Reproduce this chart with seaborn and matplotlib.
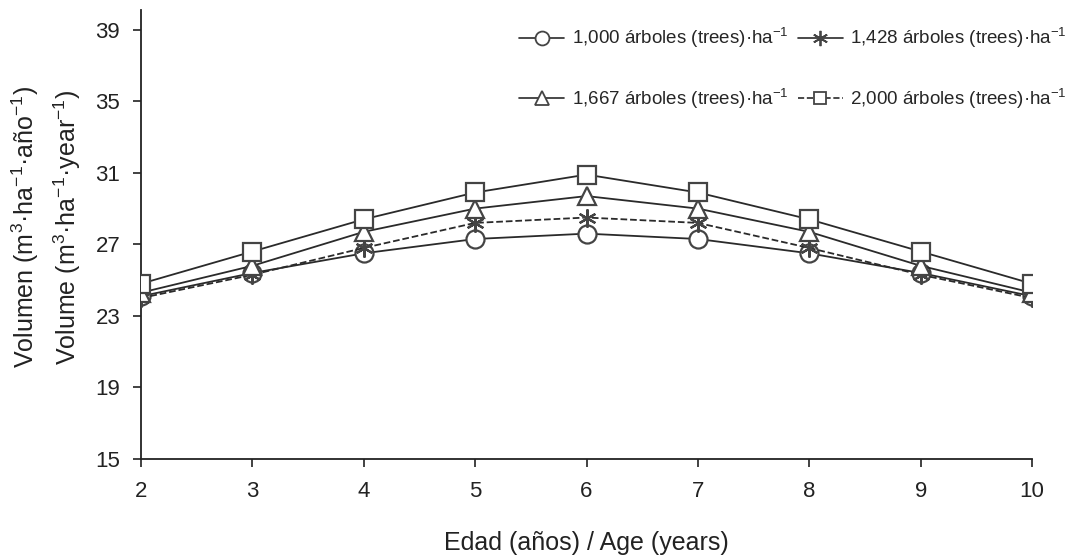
import matplotlib
matplotlib.use("Agg")
import matplotlib.pyplot as plt
from matplotlib.lines import Line2D
import seaborn as sns
import pandas as pd

ages = [2, 3, 4, 5, 6, 7, 8, 9, 10]
v1000 = [24.1, 25.4, 26.5, 27.3, 27.6, 27.3, 26.5, 25.4, 24.1]
v1428 = [24.0, 25.3, 26.8, 28.2, 28.5, 28.2, 26.8, 25.3, 24.0]
v1667 = [24.3, 25.8, 27.7, 29.0, 29.7, 29.0, 27.7, 25.8, 24.3]
v2000 = [24.8, 26.6, 28.4, 29.9, 30.9, 29.9, 28.4, 26.6, 24.8]
labels = ["1,000 árboles (trees)·ha$^{-1}$",
          "1,428 árboles (trees)·ha$^{-1}$",
          "1,667 árboles (trees)·ha$^{-1}$",
          "2,000 árboles (trees)·ha$^{-1}$"]
yticks = [15, 19, 23, 27, 31, 35, 39]
xticks = [2, 3, 4, 5, 6, 7, 8, 9, 10]

sns.set_theme(style="ticks")
plt.rcParams["font.family"] = ["Liberation Sans", "DejaVu Sans"]
plt.rcParams["mathtext.fontset"] = "custom"
plt.rcParams["mathtext.rm"] = "Liberation Sans"
plt.rcParams["mathtext.it"] = "Liberation Sans:italic"
plt.rcParams["mathtext.bf"] = "Liberation Sans:bold"
plt.rcParams["mathtext.default"] = "regular"

fig = plt.figure(figsize=(10.69, 5.59), dpi=100)
ax = fig.add_axes([0.1319, 0.1789, 0.9654 - 0.1319, 0.982 - 0.1789])

lc = "#2a2a2a"
ec = "#444444"
series = [
    (v1000, "o", "-", 13),
    (v1428, (6, 2, 0), "--", 13),
    (v1667, "^", "-", 13),
    (v2000, "s", "-", 13),
]
for vals, mk, ls, ms in series:
    df = pd.DataFrame({"age": ages, "vol": vals})
    sns.lineplot(data=df, x="age", y="vol", ax=ax, color=lc, marker=mk,
                 linestyle=ls, linewidth=1.3, markersize=ms,
                 markerfacecolor="white", markeredgecolor=ec,
                 markeredgewidth=1.6, zorder=3)

ax.set_xlim(2, 10)
ax.set_ylim(15, 40.1)
ax.set_xticks(xticks)
ax.set_yticks(yticks)
ax.tick_params(axis="both", direction="out", length=6, width=1.2,
               labelsize=16, color="#222222", labelcolor="#222222")
ax.tick_params(axis="x", pad=10)
ax.tick_params(axis="y", pad=9)
for s in ["top", "right"]:
    ax.spines[s].set_visible(False)
for s in ["left", "bottom"]:
    ax.spines[s].set_linewidth(1.3)
    ax.spines[s].set_color("#222222")

ax.set_xlabel("Edad (años) / Age (years)", fontsize=18, color="#222222", labelpad=21)
ax.set_ylabel("")
fig.text(0.024, 0.594, "Volumen (m$^{3}$·ha$^{-1}$·año$^{-1}$)",
         rotation=90, ha="center", va="center", fontsize=18, color="#222222")
fig.text(0.063, 0.594, "Volume (m$^{3}$·ha$^{-1}$·year$^{-1}$)",
         rotation=90, ha="center", va="center", fontsize=18, color="#222222")

def h(mk, ls, ms):
    return Line2D([], [], color=lc, marker=mk, linestyle=ls, linewidth=1.2,
                  markersize=ms, markerfacecolor="white", markeredgecolor=ec,
                  markeredgewidth=1.3)

handles = [h("o", "-", 10), h("^", "-", 10), h((6, 2, 0), "-", 11), h("s", "--", 9)]
order_labels = [labels[0], labels[2], labels[1], labels[3]]
fig.legend(handles, order_labels, ncol=2, loc="upper right",
           bbox_to_anchor=(0.998, 0.953), frameon=False, fontsize=13.5,
           handlelength=2.4, handletextpad=0.4, columnspacing=0.5,
           labelspacing=1.95, borderpad=0, borderaxespad=0)

fig.savefig("out.png", dpi=100, facecolor="white")
